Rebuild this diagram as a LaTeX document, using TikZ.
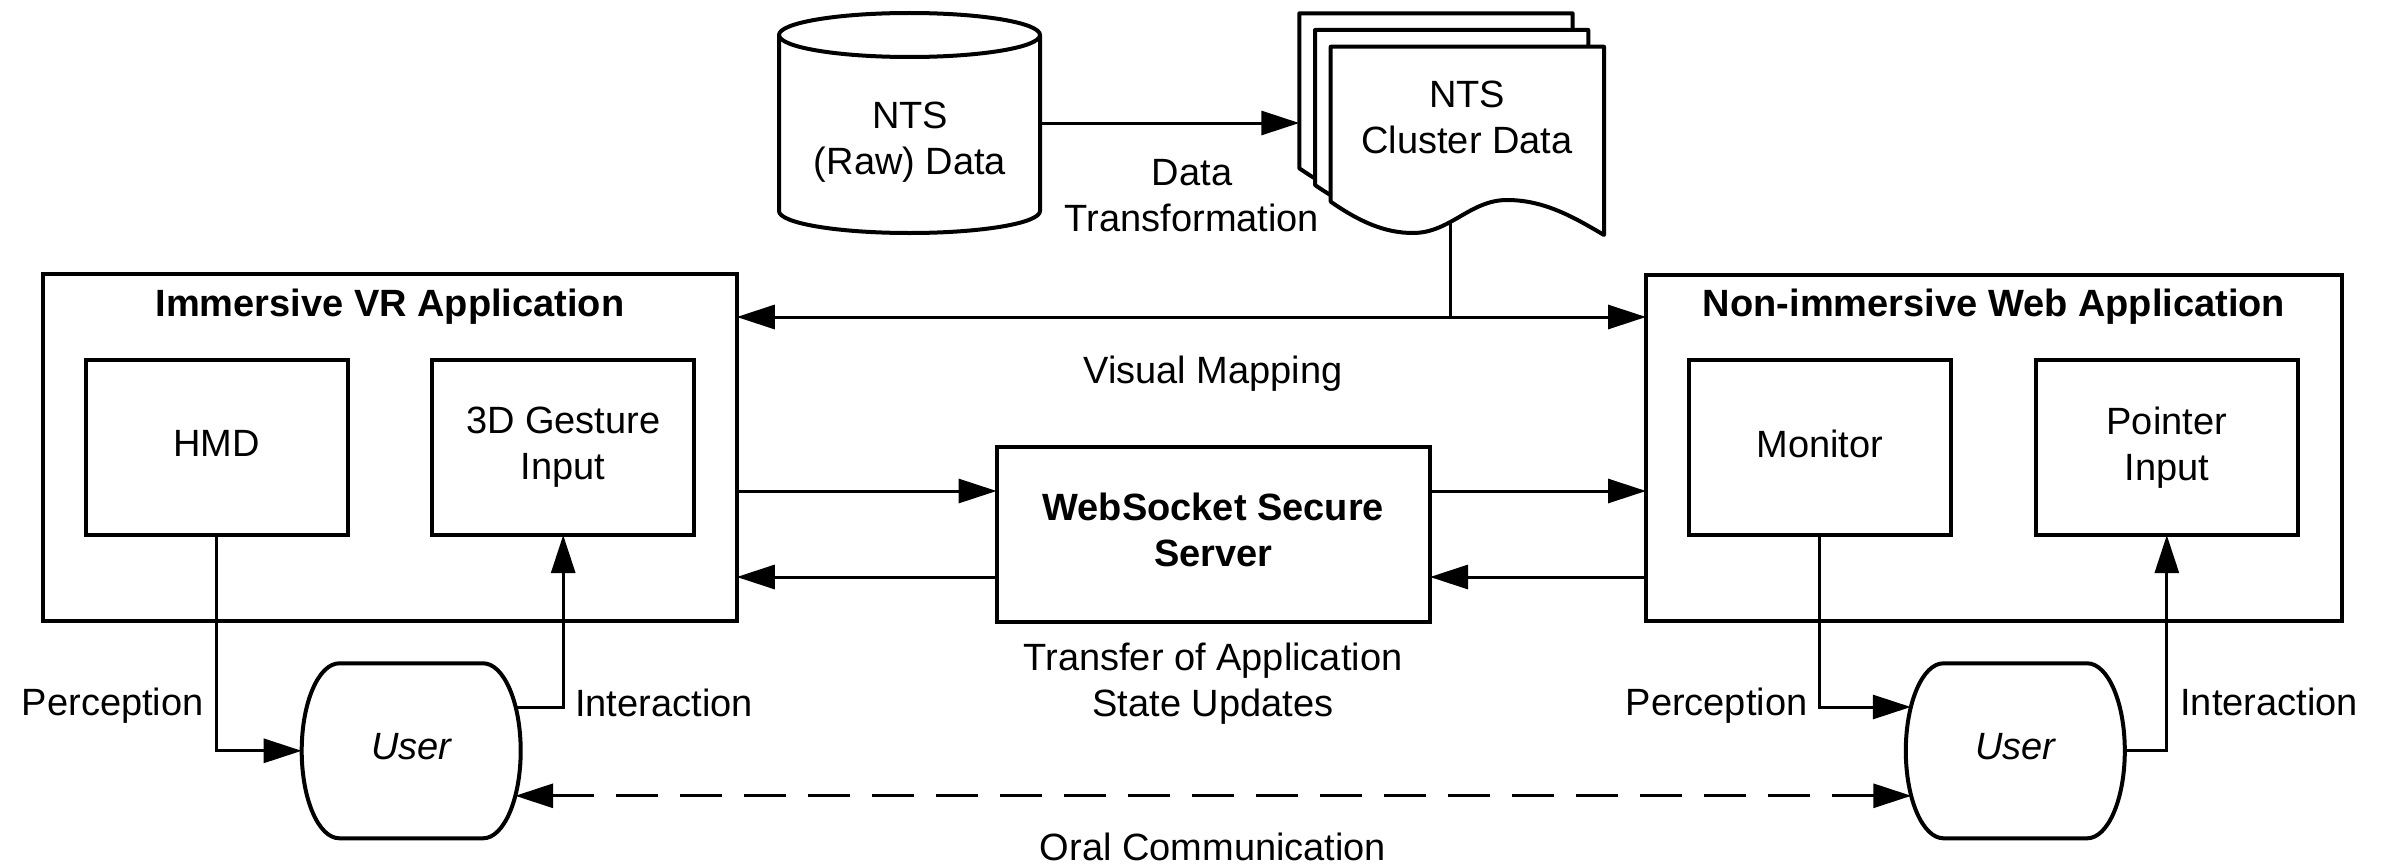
\documentclass[tikz,border=0pt]{standalone}
\usepackage{fontspec}
\setmainfont{Liberation Sans}
\usetikzlibrary{arrows.meta,calc}
\newcommand\diagfont{\fontsize{38}{46}\selectfont}
% one stacked sheet of the cluster-data pile, shifted by (#1,#2)
\newcommand\docsheet[2]{%
  \draw[outl, fill=white, shift={(#1,#2)}]
    (1330.7,-46.7) -- (1604,-46.7) -- (1604,-235)
    .. controls (1575,-218) and (1545,-200) .. (1507,-200)
    .. controls (1470,-200) and (1450,-233) .. (1413,-233)
    .. controls (1385,-233) and (1360,-222) .. (1330.7,-201.7) -- cycle;}
% barrel outline around a user node: flat top and bottom, elliptic sides
\newcommand\barrel[1]{%
  \draw[outl]
    ($(#1.north west)+(37.7,0)$) -- ($(#1.north east)+(-37.7,0)$)
    arc[start angle=90, end angle=-90, x radius=37.7, y radius=87.5]
    -- ($(#1.south west)+(37.7,0)$)
    arc[start angle=270, end angle=90, x radius=37.7, y radius=87.5] -- cycle;}
\begin{document}
\begin{tikzpicture}[x=1pt,y=1pt,
  lbl/.style={font=\diagfont, align=center, inner sep=0pt, outer sep=0pt},
  one/.style={lbl, text depth=8pt},
  frame/.style={draw, line width=4pt, inner sep=0pt, outer sep=0pt},
  unit/.style={lbl, draw, line width=4pt, minimum width=262pt, minimum height=175pt},
  person/.style={lbl, font=\diagfont\itshape, text depth=8pt, minimum width=219pt, minimum height=175pt},
  outl/.style={line width=4pt, line join=round},
  link/.style={line width=3pt},
  arr/.style={link, -{Triangle[length=38pt,width=24pt]}},
  darr/.style={link, {Triangle[length=38pt,width=24pt]}-{Triangle[length=38pt,width=24pt]}},
]
\useasboundingbox (0,0) rectangle (2387,-867);

% --- VR application ---
\node[frame, minimum width=694pt, minimum height=346.7pt] (vr) at (389.75,-447.35) {};
\node[lbl, font=\diagfont\bfseries, anchor=base] (vrtitle) at (390,-316) {Immersive VR Application};
\node[unit, text depth=8pt] (hmd) at (216.7,-447.6) {HMD};
\node[unit] (gesture) at (563.2,-447.6) {3D Gesture\\Input};

% --- Web application ---
\node[frame, minimum width=696pt, minimum height=346pt] (web) at (1994,-447.5) {};
\node[lbl, font=\diagfont\bfseries, anchor=base] (webtitle) at (1994,-316) {Non-immersive Web Application};
\node[unit, text depth=8pt] (monitor) at (1819.7,-447.6) {Monitor};
\node[unit] (pointer) at (2166.8,-447.6) {Pointer\\Input};

% --- server ---
\node[frame, lbl, font=\diagfont\bfseries, minimum width=433.4pt, minimum height=175pt] (server)
  at (1213.3,-534.2) {WebSocket Secure\\Server\rule[-8pt]{0pt}{8pt}};

% --- users ---
\node[person] (userL) at (411.2,-750.8) {User};
\node[person] (userR) at (2015.3,-750.8) {User};
\barrel{userL}
\barrel{userR}

% --- raw data store ---
\node[minimum width=261pt, minimum height=220pt, inner sep=0pt, outer sep=0pt] (raw) at (909.5,-123) {};
\draw[outl] ($(raw.north west)+(0,-22)$) -- ($(raw.south west)+(0,22)$)
  arc[start angle=180,end angle=360,x radius=130.5,y radius=22]
  -- ($(raw.north east)+(0,-22)$)
  arc[start angle=0,end angle=180,x radius=130.5,y radius=22] -- cycle;
\draw[outl] ($(raw.north west)+(0,-22)$) arc[start angle=180,end angle=360,x radius=130.5,y radius=22];
\node[lbl] (rawtext) at (910,-142.5) {NTS\\(Raw) Data};

% --- connector points ---
\coordinate (docin) at (1299.3,-123);
\coordinate (docout) at (1450.7,-215);
\coordinate (vmjoin) at (1450.7,-317);
\coordinate (hiY) at (0,-491);
\coordinate (loY) at (0,-577);

% cluster data feeds the visual mapping
\draw[link] (docout) -- (vmjoin);
\docsheet{-31.4}{33.4}
\docsheet{-15.7}{16.7}
\docsheet{0}{0}
\node[lbl] (clusters) at (1467,-117.5) {NTS\\Cluster Data};

\draw[arr] (raw.east) -- (docin);
\node[lbl] (transform) at (1192,-196) {Data\\Transformation};

\draw[darr] (vr.east |- vmjoin) -- (web.west |- vmjoin);
\node[one, anchor=base] (vmap) at (1213,-383) {Visual Mapping};

% state updates through the server
\draw[arr] (vr.east |- hiY) -- (server.west |- hiY);
\draw[arr] (server.east |- hiY) -- (web.west |- hiY);
\draw[arr] (web.west |- loY) -- (server.east |- loY);
\draw[arr] (server.west |- loY) -- (vr.east |- loY);
\node[lbl] (transfer) at (1213,-683.3) {Transfer of Application\\State Updates};

% perception / interaction loops
\draw[arr] (hmd.south) |- (userL.west);
\draw[arr] ($(userL.east)+(-5,43.2)$) -| (gesture.south);
\draw[arr] (monitor.south) |- ($(userR.west)+(5,43.8)$);
\draw[arr] (userR.east) -| (pointer.south);
\node[one, anchor=base] (percL) at (112.8,-715) {Perception};
\node[one, anchor=base] (interL) at (664,-716) {Interaction};
\node[one, anchor=base] (percR) at (1716.5,-715) {Perception};
\node[one, anchor=base] (interR) at (2269,-715) {Interaction};

% talk between the two users
\draw[darr, dash pattern=on 42pt off 22pt] ($(userL.east)+(-5.5,-45)$) -- ($(userR.west)+(5.5,-45)$);
\node[one, anchor=base] (oral) at (1213,-860) {Oral Communication};
\end{tikzpicture}
\end{document}
